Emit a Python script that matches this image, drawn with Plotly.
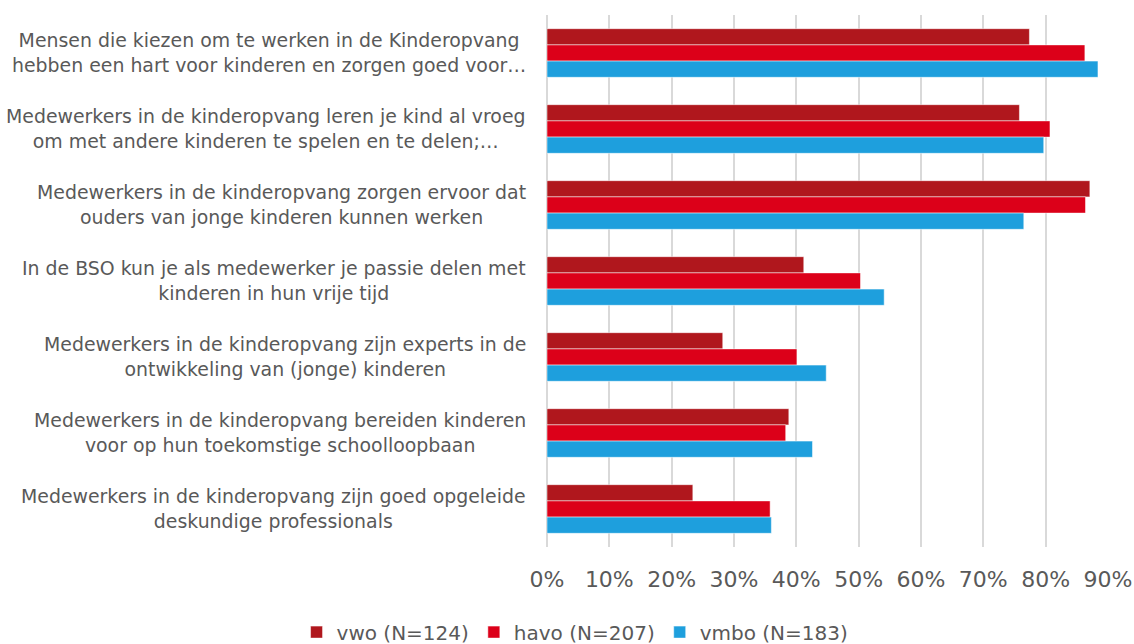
import plotly.graph_objects as go

categories = [
    "Mensen die kiezen om te werken in de Kinderopvang<br>hebben een hart voor kinderen en zorgen goed voor…",
    "Medewerkers in de kinderopvang leren je kind al vroeg<br>om met andere kinderen te spelen en te delen;…",
    "Medewerkers in de kinderopvang zorgen ervoor dat<br>ouders van jonge kinderen kunnen werken",
    "In de BSO kun je als medewerker je passie delen met<br>kinderen in hun vrije tijd",
    "Medewerkers in de kinderopvang zijn experts in de<br>ontwikkeling van (jonge) kinderen",
    "Medewerkers in de kinderopvang bereiden kinderen<br>voor op hun toekomstige schoolloopbaan",
    "Medewerkers in de kinderopvang zijn goed opgeleide<br>deskundige professionals",
]
series_names = ["vwo (N=124)", "havo (N=207)", "vmbo (N=183)"]
vwo = [0.774, 0.758, 0.871, 0.412, 0.282, 0.388, 0.234]
havo = [0.863, 0.807, 0.864, 0.503, 0.401, 0.383, 0.358]
vmbo = [0.884, 0.797, 0.765, 0.541, 0.448, 0.426, 0.360]
colors = ["#B0171D", "#DC0019", "#1E9FDD"]
x_ticks = [0, 0.1, 0.2, 0.3, 0.4, 0.5, 0.6, 0.7, 0.8, 0.9]

FONT = "DejaVu Sans, Verdana, sans-serif"
TXT = "#595959"

fig = go.Figure()
for name, vals, col in zip(series_names, [vwo, havo, vmbo], colors):
    fig.add_trace(go.Bar(
        y=categories, x=vals, name=name, orientation="h",
        marker=dict(color=col, line=dict(color="rgba(255,255,255,0.5)", width=1)),
        hoverinfo="x+name",
    ))

for c in categories:
    fig.add_annotation(
        x=0, xref="paper", xshift=-19, y=c, yref="y", yshift=1,
        text=c, showarrow=False, xanchor="right", yanchor="middle",
        align="center", font=dict(family=FONT, size=18.9, color=TXT),
    )

fig.update_layout(
    width=1134, height=644,
    barmode="group", bargap=0.36, bargroupgap=0,
    paper_bgcolor="white", plot_bgcolor="white",
    margin=dict(l=547, r=25.5, t=15, b=97, autoexpand=False),
    font=dict(family=FONT, color=TXT),
    showlegend=True,
    legend=dict(
        orientation="h", x=0.05, xanchor="center",
        y=-0.16, yanchor="middle",
        font=dict(family=FONT, size=20, color=TXT),
        traceorder="normal", itemwidth=30,
    ),
    xaxis=dict(
        range=[0, 0.9001], tickvals=x_ticks, tickformat=".0%",
        showgrid=True, gridcolor="#D9D9D9", gridwidth=1.7,
        zeroline=True, zerolinecolor="#D9D9D9", zerolinewidth=1.7,
        showline=False, ticks="", ticklabelstandoff=17,
        ticklabeloverflow="allow",
        tickfont=dict(family=FONT, size=22, color=TXT),
    ),
    yaxis=dict(
        autorange="reversed", showticklabels=False, showgrid=False,
        zeroline=False, showline=False, ticks="",
    ),
)

fig.write_html(
    "out.html",
    config={"displayModeBar": False},
    post_script="document.body.style.margin='0px';document.body.style.overflow='hidden';",
)
